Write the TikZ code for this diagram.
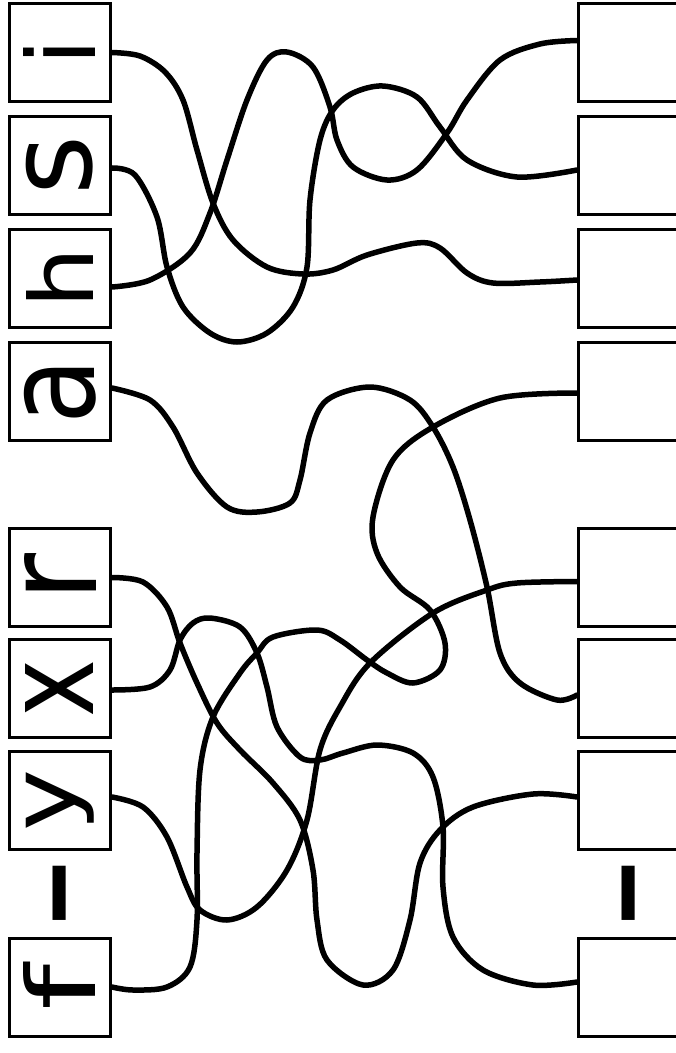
\documentclass[tikz,border=0pt]{standalone}
\usepackage{fontspec}
\usepackage{graphicx}
\newfontfamily\tilefont{DejaVu Sans}
\usetikzlibrary{positioning}

\begin{document}
\begin{tikzpicture}[x=1pt, y=-1pt,
    letter_box/.style={rectangle, draw=black, line width=3pt, minimum width=101pt, minimum height=98pt, inner sep=2pt, font=\tilefont\fontsize{100}{100}\selectfont},
    slot_box/.style={rectangle, draw=black, line width=3pt, minimum width=101pt, minimum height=98pt, inner sep=0pt},
    hyphen_mark/.style={inner sep=2pt, font=\tilefont\fontsize{40}{40}\selectfont},
    wire/.style={line width=5.5pt, line cap=round, line join=round}
]

\useasboundingbox (0,0) rectangle (676,1053);
\clip (0,0) rectangle (676,1053);

\node[letter_box] (letter_i) at (60,52.5) {\rotatebox{90}{\resizebox*{!}{72pt}{i}}};
\node[letter_box] (letter_s) at (60,165) {\rotatebox{90}{\resizebox*{60pt}{67pt}{s}}};
\node[letter_box] (letter_h) at (60,278) {\rotatebox{90}{\resizebox*{61pt}{67pt}{h}}};
\node[letter_box] (letter_a) at (60,391) {\rotatebox{90}{\resizebox*{66pt}{72pt}{a}}};
\node[letter_box] (letter_r) at (60,577.5) {\rotatebox{90}{\resizebox*{48pt}{72pt}{r}}};
\node[letter_box] (letter_x) at (60,688) {\rotatebox{90}{\resizebox*{58pt}{68pt}{x}}};
\node[letter_box] (letter_y) at (60,800) {\rotatebox{90}{\resizebox*{62pt}{68pt}{y}}};
\node[hyphen_mark] (hyphen_left) at (59,893) {\rotatebox{90}{\scalebox{5.15}[4.1]{\raisebox{-0.2em}[0.15em][0pt]{-}}}};
\node[letter_box] (letter_f) at (60,987) {\rotatebox{90}{\resizebox*{46pt}{72pt}{f}}};

\node[slot_box] (slot1) at (629,52.5) {};
\node[slot_box] (slot2) at (629,165) {};
\node[slot_box] (slot3) at (629,278) {};
\node[slot_box] (slot4) at (629,391) {};
\node[slot_box] (slot5) at (629,577.5) {};
\node[slot_box] (slot6) at (629,688) {};
\node[slot_box] (slot7) at (629,800) {};
\node[hyphen_mark] (hyphen_right) at (628,893) {\rotatebox{90}{\scalebox{5.15}[4.1]{\raisebox{-0.2em}[0.15em][0pt]{-}}}};
\node[slot_box] (slot8) at (629,987) {};

\draw[wire] plot[smooth, tension=0.55] coordinates {(letter_i.east) (140,56) (165,72) (183,100) (197,150) (213,203) (233,240) (267,267) (303,274) (333,270) (367,255) (417,243) (440,248) (467,273) (493,283) (540,282) ([yshift=-2pt]slot3.west)};
\draw[wire] plot[smooth, tension=0.55] coordinates {([yshift=-3pt]letter_s.east) (135,175) (157,217) (167,267) (183,307) (210,333) (237,342) (267,333) (293,307) (307,267) (310,200) (320,140) (333,110) (353,93) (383,86) (417,97) (440,127) (467,160) (517,177) ([yshift=-5pt]slot2.west)};
\draw[wire] plot[smooth, tension=0.55] coordinates {([yshift=-9pt]letter_h.east) (150,280) (190,253) (210,213) (227,160) (247,100) (267,60) (287,52) (313,67) (330,107) (337,140) (353,167) (387,180) (417,170) (447,133) (467,100) (500,60) (540,44) ([yshift=12pt]slot1.west)};
\draw[wire] plot[smooth, tension=0.55] coordinates {([yshift=3pt]letter_a.east) (150,400) (173,427) (197,473) (227,507) (257,512) (290,503) (300,480) (310,433) (327,400) (370,387) (410,400) (433,427) (453,467) (470,520) (487,587) (500,653) (520,683) (557,700) ([yshift=-7pt]slot6.west)};
\draw[wire] plot[smooth, tension=0.55] coordinates {([yshift=-2pt]slot4.west) (500,398) (433,427) (393,460) (373,517) (377,553) (400,587) (430,610) (445,643) (440,670) (413,683) (387,673) (367,660) (340,640) (317,630) (273,637) (257,653) (240,673) (213,717) (200,770) (197,853) (197,920) (190,967) (167,987) (133,990) (letter_f.east)};
\draw[wire] plot[smooth, tension=0.55] coordinates {([yshift=-4pt]slot5.west) (517,583) (487,590) (433,613) (370,663) (340,707) (320,750) (307,820) (287,870) (257,907) (227,920) (200,910) (187,887) (167,837) (143,807) ([yshift=3pt]letter_y.east)};
\draw[wire] plot[smooth, tension=0.55] coordinates {([yshift=-2pt]letter_x.east) (150,687) (170,670) (180,640) (193,623) (210,618) (240,627) (257,653) (267,687) (277,727) (300,757) (320,760) (343,753) (377,745) (413,753) (433,777) (443,827) (443,887) (453,937) (483,970) (533,985) ([yshift=5pt]slot8.west)};
\draw[wire] plot[smooth, tension=0.55] coordinates {(letter_r.east) (143,582) (167,607) (180,643) (197,683) (217,723) (240,750) (273,783) (300,820) (313,870) (317,920) (327,960) (363,985) (393,970) (410,920) (420,863) (440,830) (473,807) (533,794) ([yshift=3pt]slot7.west)};

\end{tikzpicture}
\end{document}
